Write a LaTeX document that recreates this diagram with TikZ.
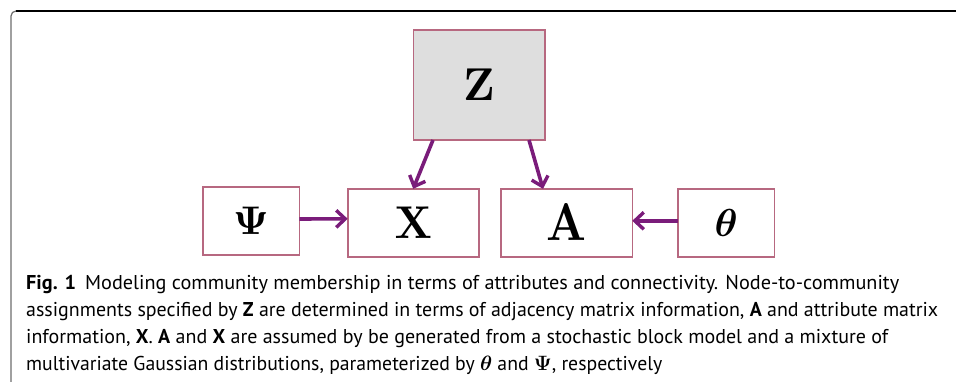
\documentclass[tikz,border=0pt]{standalone}
\usepackage{amsmath,bm}
\usepackage{graphicx}
\usepackage[no-math]{fontspec}
\usetikzlibrary{arrows.meta}
\newfontfamily\capfont{PT Sans}
\definecolor{boxred}{RGB}{183,104,128}
\definecolor{zgray}{RGB}{222,222,222}
\definecolor{arrpurple}{RGB}{122,28,122}
\definecolor{framegray}{RGB}{110,110,110}
\begin{document}
\begin{tikzpicture}[x=1pt,y=-1pt,
  varbox/.style={draw=boxred, line width=1.6pt, fill=white, inner sep=0pt, outer sep=0pt},
  link/.style={draw=arrpurple, line width=3.6pt, -{Straight Barb[length=9pt,width=17pt,line width=3.4pt]}},
  capline/.style={anchor=base west, inner sep=0pt, font=\capfont\fontsize{20}{24}\selectfont}]
\useasboundingbox (0,0) rectangle (956,382);
\fill[white] (0,0) rectangle (956,382);
% frame
\draw[framegray, line width=1.2pt] (11,382) -- (11,16) arc[start angle=180, end angle=270, radius=5];
\draw[black, line width=1.2pt] (16,11) -- (956,11);
% boxes
\node[varbox, fill=zgray, minimum width=131.4pt, minimum height=110pt] (Z) at (479,85) {\scalebox{4.5}[4.6]{$\mathbf{Z}$}};
\node[varbox, minimum width=96.6pt, minimum height=68.3pt] (Psi) at (251,221) {\scalebox{4.0}{$\mathbf{\Psi}$}};
\node[varbox, minimum width=131pt, minimum height=68pt] (X) at (413.2,222.8) {\scalebox{4.3}[4.6]{$\mathbf{X}$}};
\node[varbox, minimum width=131.6pt, minimum height=68pt] (A) at (566.5,222.8) {\scalebox{4.6}[5.3]{$\mathbf{A}$}};
\node[varbox, minimum width=96.7pt, minimum height=68pt] (T) at (726.3,222.8) {\scalebox{3.9}{$\boldsymbol{\theta}$}};
% connectors
\draw[link] ([xshift=-46pt]Z.south) -- ([xshift=0pt]X.north);
\draw[link] ([xshift=50pt]Z.south) -- ([xshift=-23.5pt]A.north);
\draw[link] ([yshift=2pt]Psi.east) -- ([yshift=4pt]X.west);
\draw[link] ([yshift=2pt]T.west) -- ([yshift=2pt]A.east);
% caption
\node[capline] (c1) at (26,289) {\resizebox{873pt}{\height}{\textbf{Fig. 1}\hspace{0.45em}Modeling community membership in terms of attributes and connectivity. Node-to-community}};
\node[capline] (c2) at (26,316) {\resizebox{912pt}{\height}{assignments specified by \textbf{Z} are determined in terms of adjacency matrix information, \textbf{A} and attribute matrix}};
\node[capline] (c3) at (26,343) {\resizebox{862pt}{\height}{information, \textbf{X}. \textbf{A} and \textbf{X} are assumed by be generated from a stochastic block model and a mixture of}};
\node[capline] (c4) at (26,370) {\resizebox{636pt}{\height}{multivariate Gaussian distributions, parameterized by $\boldsymbol{\theta}$ and $\boldsymbol{\Psi}$, respectively}};
\end{tikzpicture}
\end{document}
